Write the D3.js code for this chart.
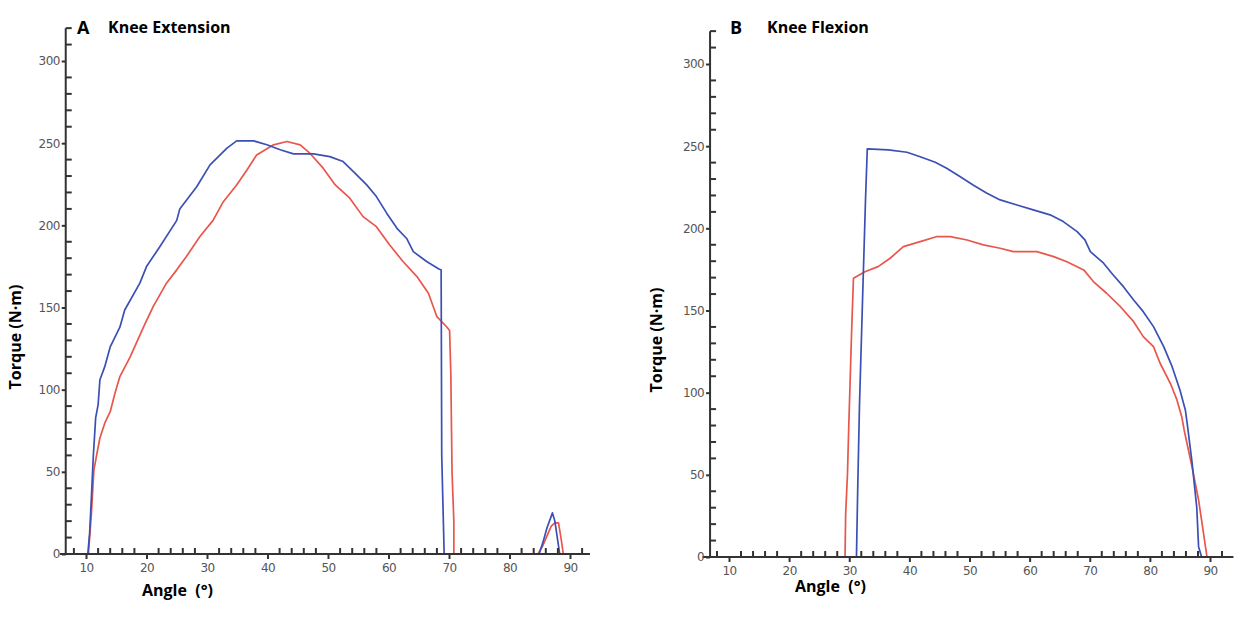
<!DOCTYPE html>
<html><head><meta charset="utf-8">
<script src="https://cdn.jsdelivr.net/npm/d3@7/dist/d3.min.js"></script>
<style>body{margin:0;background:#fff}svg{display:block}</style>
</head><body>
<svg id="c" width="1253" height="618"></svg>
<script>
// ---- Data ----
const xTickLabels = [10,20,30,40,50,60,70,80,90];
const yTickLabels = [0,50,100,150,200,250,300];

// Panel A: Knee Extension
const extBlueAngle  = [10.3,10.6,10.9,11.2,11.6,12.0,12.3,13.1,14.0,15.6,16.4,18.9,20.0,22.2,25.0,25.5,28.3,30.5,33.3,34.9,37.7,39.9,42.1,44.3,47.6,50.3,52.5,54.2,56.4,58.0,59.7,61.4,63.0,64.1,66.3,68.4,68.7,68.8,69.0,69.2,84.9,85.6,86.2,86.8,87.1,87.5,87.9,88.3];
const extBlueTorque = [0,12.8,35,59,83,90.7,106,114,126,138,148.5,164.8,174.9,187,203,210,223.5,236.8,247,251.4,251.4,249,246,243.5,243.5,241.8,238.8,232.7,224.6,217.5,207.4,198.2,192,184,178,173.3,173,60,30,0,0,8,16,22,25,20,10,0];
const extRedAngle   = [10.4,10.9,11.3,11.8,12.3,13.1,14.0,14.8,15.6,17.3,19.5,21.1,23.3,25.0,26.6,28.8,31.0,32.7,34.9,36.6,38.2,41.0,43.2,45.4,47.0,49.2,51.2,53.6,55.8,58.0,60.2,62.4,64.7,66.6,68.0,69.6,70.1,70.3,70.5,70.8,70.8,84.7,85.5,86.2,86.9,87.5,88.1,88.5,88.9];
const extRedTorque  = [0,25,51,61,70.6,79.6,86.6,98,108,120,138,150.5,164.8,172.9,181,193,203,214.4,224.6,233.7,242.8,249,251,249,243.9,234.8,224.6,216.5,205.3,199.2,188,178,168.8,158.7,144.4,138.3,136,110,50,20,0,0,5,11,17,19,19,10,0];

// Panel B: Knee Flexion
const flexBlueAngle  = [31.2,31.4,31.7,32.2,32.7,33.0,36.5,39.6,41.8,44.3,46.2,48.4,50.6,52.9,55.1,57.9,60.6,63.4,65.6,67.9,69.2,70.1,72.3,73.9,75.6,77.3,78.9,80.6,82.3,83.7,85.0,85.9,86.2,87.0,87.8,88.1,88.6];
const flexBlueTorque = [0,40,92,155,217,248.3,247.7,246.3,243.6,240.2,236.6,231.5,226.4,221.4,217.3,214.2,211.2,208.2,204.1,198,193,185.8,178.8,171.6,164.5,156.4,149.3,140.2,128,115.8,101.6,89.5,81.4,58,30,6.3,0];
const flexRedAngle   = [29.3,29.4,29.7,29.9,30.4,30.7,32.6,34.8,36.8,39.0,41.8,44.6,46.8,49.6,52.3,55.1,57.3,61.2,64.0,66.2,69.0,70.6,72.8,75.1,77.3,78.9,80.6,81.7,83.4,84.5,85.3,85.7,87.0,88.1,88.6,89.0,89.5];
const flexRedTorque  = [0,26,50,77,138,169.6,173.6,176.7,181.8,188.9,191.9,195,195,192.9,189.9,187.9,185.8,185.8,182.8,179.7,174.7,167.6,160.5,152.3,143.2,134.1,128,117.9,105.7,95.6,85.4,77.3,55,34.7,22.5,12.4,0];

const BLUE = "#3b50b4", RED = "#e8564c";
const svg = d3.select("#c");
svg.append("rect").attr("width",1253).attr("height",618).attr("fill","#fff");

function zip(a,b){ return a.map((v,i)=>[v,b[i]]); }

function drawPanel(p){
  const g = svg.append("g");
  const x = d3.scaleLinear().domain([10,90]).range([p.x10,p.x90]);
  const y = d3.scaleLinear().domain([0,300]).range([p.y0,p.y300]);
  const yAxisX = x(p.yAxisAt);

  // curves
  const line = d3.line().x(d=>x(d[0])).y(d=>y(d[1]));
  p.series.forEach(s=>{
    g.append("path").datum(zip(s.a,s.t)).attr("d",line)
     .attr("fill","none").attr("stroke",s.c).attr("stroke-width",1.7)
     .attr("stroke-linejoin","round");
  });

  // x axis: major ticks down, minor ticks up
  const xAx = g.append("g").attr("transform",`translate(0,${p.y0})`)
    .call(d3.axisBottom(x).tickValues(xTickLabels).tickSize(5).tickPadding(4).tickFormat(d3.format("d")));
  xAx.select(".domain").remove();
  const minorX = d3.range(8,93,2).filter(v=>v%10!==0);
  g.append("g").selectAll("line").data(minorX).join("line")
    .attr("x1",d=>x(d)).attr("x2",d=>x(d)).attr("y1",p.y0).attr("y2",p.y0-6);
  g.append("line").attr("x1",x(p.xStart)).attr("x2",x(p.xEnd)).attr("y1",p.y0).attr("y2",p.y0)
    .attr("stroke","#333").attr("stroke-width",2);

  // y axis: major ticks left, minor ticks right
  const yAx = g.append("g").attr("transform",`translate(${yAxisX},0)`)
    .call(d3.axisLeft(y).tickValues(yTickLabels).tickSize(4).tickPadding(2).tickFormat(d3.format("d")));
  yAx.select(".domain").remove();
  const minorY = d3.range(10,321,10).filter(v=>v%50!==0);
  g.append("g").selectAll("line").data(minorY).join("line")
    .attr("x1",yAxisX).attr("x2",yAxisX+6).attr("y1",d=>y(d)).attr("y2",d=>y(d));
  g.append("line").attr("x1",yAxisX).attr("x2",yAxisX).attr("y1",p.y0).attr("y2",y(320))
    .attr("stroke","#333").attr("stroke-width",2);

  g.selectAll("line").attr("stroke","#333").attr("stroke-width",2);
  g.selectAll(".tick text").attr("fill","#555").attr("font-family","DejaVu Sans")
    .attr("font-size",12).attr("letter-spacing","-0.6");

  // titles
  const tf = "Open Sans";
  g.append("text").attr("x",p.letterX).attr("y",34).text(p.letter)
    .attr("font-family",tf).attr("font-weight","bold").attr("font-size",18);
  g.append("text").attr("x",p.titleX).attr("y",33).text(p.title)
    .attr("font-family",tf).attr("font-weight","bold").attr("font-size",16);
  g.append("text").attr("transform",`translate(${p.ylabX},${p.ylabY}) rotate(-90)`)
    .attr("text-anchor","middle").text("Torque (N·m)")
    .attr("font-family",tf).attr("font-weight","bold").attr("font-size",16);
  g.append("text").attr("x",p.xlabX).attr("y",p.xlabY).text("Angle  (°)")
    .attr("xml:space","preserve").style("white-space","pre")
    .attr("font-family",tf).attr("font-weight","bold").attr("font-size",16);
}

drawPanel({
  x10:86, x90:570, y0:554, y300:61, yAxisAt:6.65, xStart:5.7, xEnd:93.3,
  letter:"A", letterX:77, title:"Knee Extension", titleX:108,
  ylabX:21, ylabY:337, xlabX:142, xlabY:596,
  series:[{a:extRedAngle,t:extRedTorque,c:RED},{a:extBlueAngle,t:extBlueTorque,c:BLUE}]
});
drawPanel({
  x10:729, x90:1210, y0:557, y300:64, yAxisAt:6.85, xStart:5.6, xEnd:93.9,
  letter:"B", letterX:730, title:"Knee Flexion", titleX:767,
  ylabX:662, ylabY:340, xlabX:795, xlabY:592,
  series:[{a:flexRedAngle,t:flexRedTorque,c:RED},{a:flexBlueAngle,t:flexBlueTorque,c:BLUE}]
});
</script>
</body></html>
